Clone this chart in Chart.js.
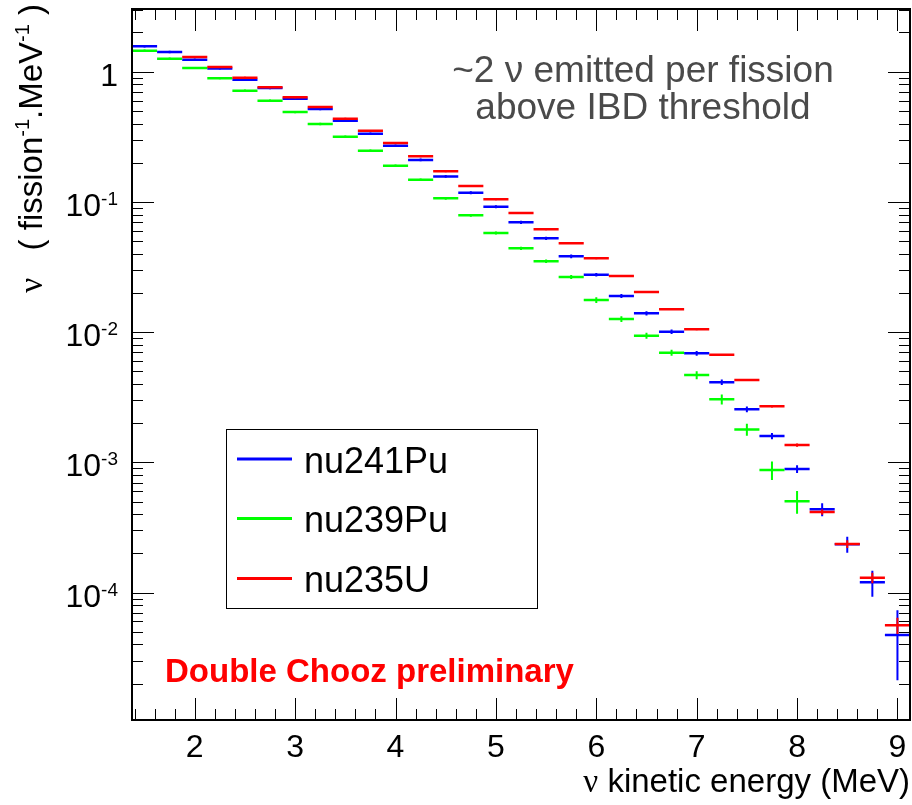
<!DOCTYPE html>
<html>
<head>
<meta charset="utf-8">
<script src="https://cdn.jsdelivr.net/npm/chart.js@4.4.1/dist/chart.umd.min.js"></script>
<style>
html,body{margin:0;padding:0;background:#fff;}
#wrap{width:912px;height:805px;position:relative;}
canvas{display:block;}
</style>
</head>
<body>
<div id="wrap"><canvas id="c" width="912" height="805"></canvas></div>
<script>
// ---- data ----
const binCenters = [1.5,1.75,2,2.25,2.5,2.75,3,3.25,3.5,3.75,4,4.25,4.5,4.75,5,5.25,5.5,5.75,6,6.25,6.5,6.75,7,7.25,7.5,7.75,8,8.25,8.5,8.75,9];
const binWidth = 0.25;

const nu241Pu = [1.567,1.417,1.236,1.058,0.868,0.749,0.620,0.517,0.420,0.334,
                 0.270,0.210,0.157,0.1177,0.0919,0.0697,0.0525,0.0382,0.0276,0.01893,
                 0.01394,0.01007,0.00687,0.00412,0.002554,0.001592,0.000888,0.000436,0.000235,0.0001198,0.0000472];
const nu241PuErr = [0.03,0.03,0.025,0.02,0.018,0.015,0.013,0.011,0.009,0.0075,
                    0.006,0.005,0.0038,0.003,0.0024,0.0019,0.0015,0.0012,0.0009,0.00065,
                    0.0005,0.0004,0.0003,0.0002,0.00013,0.00009,0.00006,0.00005,0.000033,0.000027,0.000026];

const nu239Pu = [1.45,1.259,1.068,0.890,0.7145,0.599,0.490,0.3966,0.3167,0.2473,
                 0.1897,0.1481,0.1066,0.0789,0.0577,0.044,0.035,0.0265,0.01764,0.0126,
                 0.00938,0.00695,0.00468,0.00305,0.00179,0.000873,0.000502,null,null,null,null];
const nu239PuErr = [0.03,0.025,0.02,0.017,0.014,0.012,0.01,0.008,0.0065,0.005,
                    0.004,0.0032,0.0025,0.002,0.0016,0.0013,0.0011,0.0009,0.0009,0.00065,
                    0.0005,0.00037,0.00033,0.00027,0.00019,0.00014,0.0001,null,null,null,null];

const nu235U = [null,null,1.297,1.087,0.899,0.759,0.636,0.536,0.4355,0.352,
                0.2834,0.224,0.1718,0.1325,0.1047,0.0822,0.0616,0.0481,0.0369,0.02697,
                0.02032,0.015,0.01051,0.00669,0.004286,0.002692,0.001358,0.000415,0.000236,0.00013,0.000056];
const nu235UErr = [null,null,0.02,0.017,0.014,0.012,0.01,0.008,0.0065,0.0053,
                   0.0043,0.0034,0.0026,0.002,0.0016,0.0012,0.0009,0.0007,0.00055,0.0004,
                   0.0003,0.00023,0.00016,0.0001,0.00007,0.00005,0.00004,0.00002,0.000016,0.000012,0.000008];

const seriesNames = ['nu241Pu','nu239Pu','nu235U'];
const seriesColors = ['#0000ff','#00ff00','#ff0000'];

const xTickValues = [2,3,4,5,6,7,8,9];
const xTickLabels = ['2','3','4','5','6','7','8','9'];
const yTickValues = [1,0.1,0.01,0.001,0.0001];
const yTickBase = ['1','10','10','10','10'];
const yTickExp  = ['','-1','-2','-3','-4'];

const xTitleParts = [['ν','serif'],[' kinetic energy (MeV)','sans']];
const yTitleParts = [['ν','serif'],['   ( fission','sans'],['-1','sup'],['.MeV','sans'],['-1','sup'],[' )','sans']];
const noteLines = ['~2 ν emitted per fission','above IBD threshold'];
const stampText = 'Double Chooz preliminary';

// ---- build library datasets ----
function barData(vals){
  const d=[];
  vals.forEach((v,i)=>{ if(v==null) return; const c=binCenters[i];
    d.push({x:c-binWidth/2,y:v},{x:c+binWidth/2,y:v},{x:c,y:null}); });
  return d;
}
function errData(vals,errs){
  const d=[];
  vals.forEach((v,i)=>{ if(v==null||errs[i]==null) return; const c=binCenters[i];
    d.push({x:c,y:v-errs[i]},{x:c,y:v+errs[i]},{x:c,y:null}); });
  return d;
}
const allVals=[nu241Pu,nu239Pu,nu235U], allErrs=[nu241PuErr,nu239PuErr,nu235UErr];
const drawOrder=[3,2,1];
const datasets=[];
allVals.forEach((vals,k)=>{
  datasets.push({label:seriesNames[k],data:barData(vals),showLine:true,borderColor:seriesColors[k],
    borderWidth:2.5,pointRadius:0,spanGaps:false,tension:0,fill:false,order:drawOrder[k]});
  datasets.push({label:seriesNames[k]+' err',data:errData(vals,allErrs[k]),showLine:true,borderColor:seriesColors[k],
    borderWidth:2,pointRadius:0,spanGaps:false,tension:0,fill:false,order:drawOrder[k]});
});

const SANS='"Liberation Sans", Arial, Helvetica, sans-serif';
const SERIF='"Liberation Serif", "DejaVu Serif", serif';

function drawParts(ctx, parts, size, supSize, supRise, x0, y0){
  let x=x0;
  parts.forEach(([t,f])=>{
    if(f==='sup'){ ctx.font=supSize+'px '+SANS; ctx.fillText(t,x,y0-supRise); }
    else { ctx.font=size+'px '+(f==='serif'?SERIF:SANS); ctx.fillText(t,x,y0); }
    x+=ctx.measureText(t).width;
  });
  return x-x0;
}
function partsWidth(ctx, parts, size, supSize){
  let w=0;
  parts.forEach(([t,f])=>{
    ctx.font=(f==='sup'?supSize:size)+'px '+(f==='sup'?SANS:(f==='serif'?SERIF:SANS));
    w+=ctx.measureText(t).width;
  });
  return w;
}

const rootStyle={
  id:'rootStyle',
  afterDraw(chart){
    const ctx=chart.ctx; const {left,right,top,bottom}=chart.chartArea;
    const xs=chart.scales.x, ys=chart.scales.y;
    ctx.save();
    ctx.strokeStyle='#000'; ctx.fillStyle='#000';
    // inner ticks on all four sides
    ctx.lineWidth=1;
    ctx.beginPath();
    for(let k=7;k<=45;k++){
      const v=k/5; if(v<xs.min||v>xs.max) continue;
      const major=(k%5===0); const L=major?22:11; const px=Math.round(xs.getPixelForValue(v))+0.5;
      ctx.moveTo(px,bottom); ctx.lineTo(px,bottom-L);
      ctx.moveTo(px,top); ctx.lineTo(px,top+L);
    }
    for(let n=-5;n<=0;n++){
      for(let m=1;m<=9;m++){
        const v=m*Math.pow(10,n); if(v<ys.min||v>ys.max) continue;
        const L=(m===1)?22:11; const py=Math.round(ys.getPixelForValue(v))+0.5;
        ctx.moveTo(left,py); ctx.lineTo(left+L,py);
        ctx.moveTo(right,py); ctx.lineTo(right-L,py);
      }
    }
    ctx.stroke();
    // frame
    ctx.lineWidth=2;
    ctx.strokeRect(left,top,right-left,bottom-top);
    // x tick labels
    ctx.font='32px '+SANS; ctx.textAlign='center'; ctx.textBaseline='alphabetic';
    xTickValues.forEach((v,i)=>{ ctx.fillText(xTickLabels[i], xs.getPixelForValue(v), 757); });
    // y tick labels
    ctx.textAlign='right';
    yTickValues.forEach((v,i)=>{
      const py=ys.getPixelForValue(v);
      let xr=118;
      if(yTickExp[i]){ ctx.font='19px '+SANS; ctx.fillText(yTickExp[i],xr,py+3); xr-=ctx.measureText(yTickExp[i]).width; }
      ctx.font='32px '+SANS; ctx.fillText(yTickBase[i],xr,py+14);
    });
    ctx.textAlign='left';
    // x title (right aligned at frame right)
    const wx=partsWidth(ctx,xTitleParts,33,19);
    drawParts(ctx,xTitleParts,33,19,13,right-wx,792);
    // y title rotated, ending at top
    const wy=partsWidth(ctx,yTitleParts,33,20);
    ctx.save(); ctx.translate(42,4); ctx.rotate(-Math.PI/2);
    drawParts(ctx,yTitleParts,33,20,13,-wy,0);
    ctx.restore();
    // note text
    ctx.fillStyle='#4a4a4a'; ctx.textAlign='center';
    ctx.font='37px '+SANS;
    ctx.fillText(noteLines[0],643,82);
    ctx.fillText(noteLines[1],643,118.5);
    // stamp
    ctx.fillStyle='#ff0000'; ctx.textAlign='left'; ctx.font='bold 33px '+SANS;
    ctx.fillText(stampText,165,682);
    // legend
    ctx.fillStyle='#fff'; ctx.fillRect(226,429,312,179);
    ctx.strokeStyle='#000'; ctx.lineWidth=1; ctx.strokeRect(226.5,429.5,311,179);
    const ly=[459,518.5,578.5], lb=[472.7,531.7,591.7];
    seriesNames.forEach((nm,k)=>{
      ctx.strokeStyle=seriesColors[k]; ctx.lineWidth=3;
      ctx.beginPath(); ctx.moveTo(237,ly[k]); ctx.lineTo(292,ly[k]); ctx.stroke();
      ctx.fillStyle='#000'; ctx.font='36px '+SANS; ctx.fillText(nm,304,lb[k]);
    });
    ctx.restore();
  }
};

new Chart(document.getElementById('c'),{
  type:'scatter',
  data:{datasets},
  options:{
    responsive:false, animation:false, devicePixelRatio:1,
    layout:{padding:{top:9,right:2,left:0,bottom:0}},
    plugins:{legend:{display:false},tooltip:{enabled:false}},
    scales:{
      x:{type:'linear',min:1.375,max:9.125,
         grid:{display:false},border:{display:false},ticks:{display:false},
         afterBuildTicks(s){ s.ticks=xTickValues.map(v=>({value:v})); },
         afterFit(s){ s.height=85; }},
      y:{type:'logarithmic',min:1.05e-5,max:3.03,
         grid:{display:false},border:{display:false},ticks:{display:false},
         afterBuildTicks(s){ s.ticks=yTickValues.map(v=>({value:v})); },
         afterFit(s){ s.width=132; }}
    }
  },
  plugins:[rootStyle]
});
</script>
</body>
</html>
